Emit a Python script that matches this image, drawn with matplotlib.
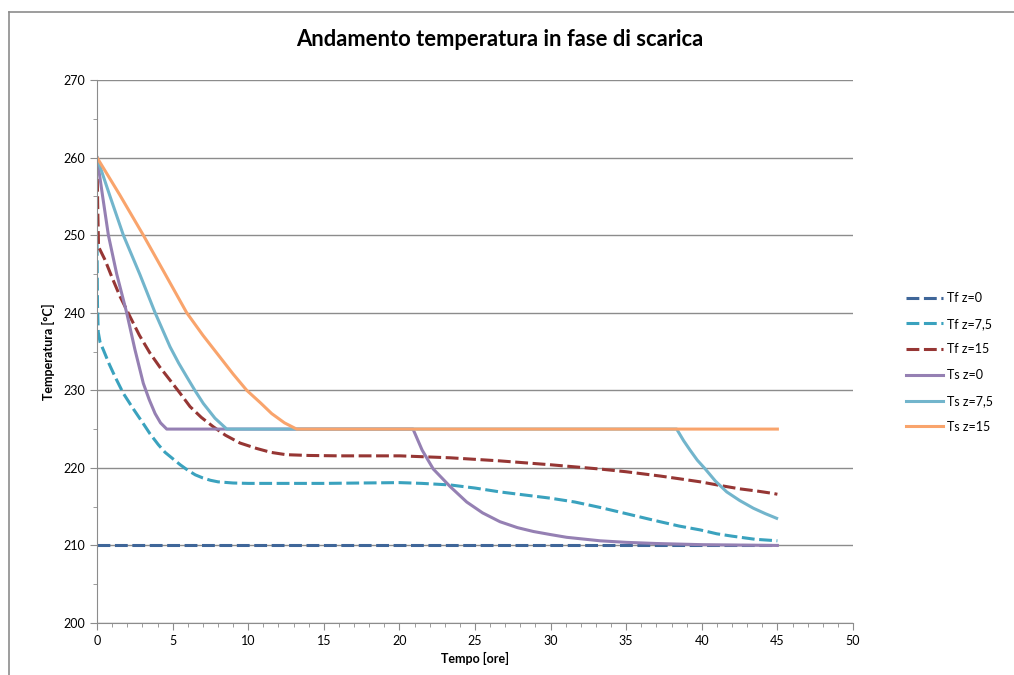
import numpy as np
import matplotlib.pyplot as plt
from matplotlib.lines import Line2D
from matplotlib.ticker import MultipleLocator

plt.rcParams['font.family'] = ['Lato', 'DejaVu Sans']

# Data (time in hours, temperature in degC)
tf0_t = [0, 45]
tf0_y = [210, 210]

tf75_t = [0, 0.03, 0.08, 0.2, 0.42, 0.8, 1.19, 1.74, 2.4, 3.06, 3.5, 4.05, 4.5, 5.0, 5.5, 6.0, 6.5, 7.0, 7.5, 8.0, 9.0, 10, 15, 20,
          21.5, 23.35, 25, 26.65, 28.3, 29.96, 31.6, 33.27, 35, 36.5, 37.24, 38.5, 39.9, 41, 42, 43.5, 45]
tf75_y = [249, 241, 237.5, 236.2, 235.2, 233.4, 231.75, 229.6, 227.6, 225.7, 224.4, 223.0, 222.0, 221.2, 220.4, 219.7, 219.1, 218.7, 218.4, 218.2, 218.05, 218.0, 218.0, 218.1,
          218.0, 217.8, 217.4, 216.9, 216.5, 216.1, 215.6, 214.9, 214.1, 213.4, 213.06, 212.5, 212.0, 211.5, 211.2, 210.8, 210.6]

tf15_t = [0, 0.05, 0.1, 0.53, 1.0, 1.52, 2.18, 2.8, 3.5, 4.15, 4.83, 5.5, 6.15, 6.9, 7.69, 8.5, 9.46, 10.56, 11.5, 12.5, 14, 16, 20.04,
          23.35, 26.65, 30, 33.27, 35, 37.24, 38.5, 39.9, 41.3, 42.5, 43.7, 44.73, 45]
tf15_y = [259.5, 253, 248.5, 246.8, 244.5, 242.1, 239.5, 237.1, 234.8, 233.0, 231.3, 229.6, 227.9, 226.5, 225.3, 224.2, 223.2, 222.5, 222.0, 221.7, 221.6, 221.55, 221.55,
          221.3, 220.9, 220.4, 219.85, 219.5, 218.95, 218.6, 218.2, 217.7, 217.3, 217.0, 216.7, 216.6]

ts0_t = [0, 0.37, 0.75, 1.3, 1.96, 2.5, 3.06, 3.45, 3.84, 4.2, 4.61, 20.9, 21.5, 22.24, 23.35, 24.45, 25.5, 26.65, 27.8, 28.86, 30, 31.06,
         33.27, 35, 37, 40, 42.5, 45]
ts0_y = [260, 255, 250, 245, 240, 235.3, 230.9, 228.8, 227.0, 225.8, 225, 225, 222.3, 219.85, 217.6, 215.6, 214.2, 213.06, 212.3, 211.8, 211.4, 211.05,
         210.6, 210.4, 210.25, 210.1, 210.05, 210.0]

ts75_t = [0, 0.86, 1.74, 2.84, 3.84, 4.83, 5.4, 5.93, 6.5, 7.03, 7.8, 8.58, 38.34, 38.8, 39.22, 39.7, 40.21, 40.9, 41.65, 42.5, 43.41, 44.2, 44.95]
ts75_y = [260, 255, 250, 244.9, 240, 235.6, 233.5, 231.75, 229.9, 228.3, 226.4, 225, 225, 223.5, 222.3, 221.0, 219.9, 218.3, 216.9, 215.8, 214.8, 214.1, 213.5]

ts15_t = [0, 1.5, 3.06, 4.5, 5.93, 7.0, 7.92, 9.0, 9.9, 10.8, 11.55, 12.4, 13.2, 45]
ts15_y = [260, 255.2, 250, 245, 240, 237.1, 234.8, 232.1, 230, 228.4, 227.0, 225.8, 225, 225]

labels = ['Tf z=0', 'Tf z=7,5', 'Tf z=15', 'Ts z=0', 'Ts z=7,5', 'Ts z=15']
colors = ['#3F6699', '#3AA2BE', '#963634', '#9580B3', '#72B5CC', '#F9A46C']

fig = plt.figure(figsize=(10.14, 6.75), dpi=100)
ax = fig.add_axes([0.0957, 0.077, 0.7455, 0.8045])

# outer chart frame (left and top edges visible)
fig.add_artist(Line2D([9 / 1014, 9 / 1014], [0, 1 - 12 / 675], color='#8C8C8C', lw=1.2))
fig.add_artist(Line2D([9 / 1014, 1], [1 - 12 / 675, 1 - 12 / 675], color='#8C8C8C', lw=1.2))

dash = (0, (4.2, 1.5))
ax.plot(tf0_t, tf0_y, color=colors[0], lw=2.2, linestyle=dash, label=labels[0])
ax.plot(tf75_t, tf75_y, color=colors[1], lw=2.2, linestyle=dash, label=labels[1])
ax.plot(tf15_t, tf15_y, color=colors[2], lw=2.2, linestyle=dash, label=labels[2])
ax.plot(ts0_t, ts0_y, color=colors[3], lw=2.2, label=labels[3])
ax.plot(ts75_t, ts75_y, color=colors[4], lw=2.2, label=labels[4])
ax.plot(ts15_t, ts15_y, color=colors[5], lw=2.2, label=labels[5])

ax.set_xlim(0, 50)
ax.set_ylim(200, 270)
ax.xaxis.set_major_locator(MultipleLocator(5))
ax.xaxis.set_minor_locator(MultipleLocator(1))
ax.yaxis.set_major_locator(MultipleLocator(10))
ax.yaxis.set_minor_locator(MultipleLocator(5))
ax.grid(axis='y', which='major', color='#8C8C8C', lw=1)
ax.set_axisbelow(True)

for s in ['top', 'right']:
    ax.spines[s].set_visible(False)
for s in ['left', 'bottom']:
    ax.spines[s].set_color('#8C8C8C')
ax.tick_params(which='both', colors='#8C8C8C', labelcolor='black', labelsize=9)
ax.tick_params(which='major', length=5)
ax.tick_params(which='minor', length=3)

ax.set_xlabel('Tempo [ore]', fontsize=9, fontweight='bold', labelpad=4)
ax.set_ylabel('Temperatura [°C]', fontsize=9, fontweight='bold', labelpad=6)

fig.text(0.493, 0.941, 'Andamento temperatura in fase di scarica', ha='center', va='center',
         fontsize=15.8, fontweight='bold')

ax.legend(loc='center left', bbox_to_anchor=(1.055, 0.48), frameon=False, fontsize=9,
          handlelength=3.0, labelspacing=1.1, handletextpad=0.3)

plt.savefig('out.png', dpi=100)
